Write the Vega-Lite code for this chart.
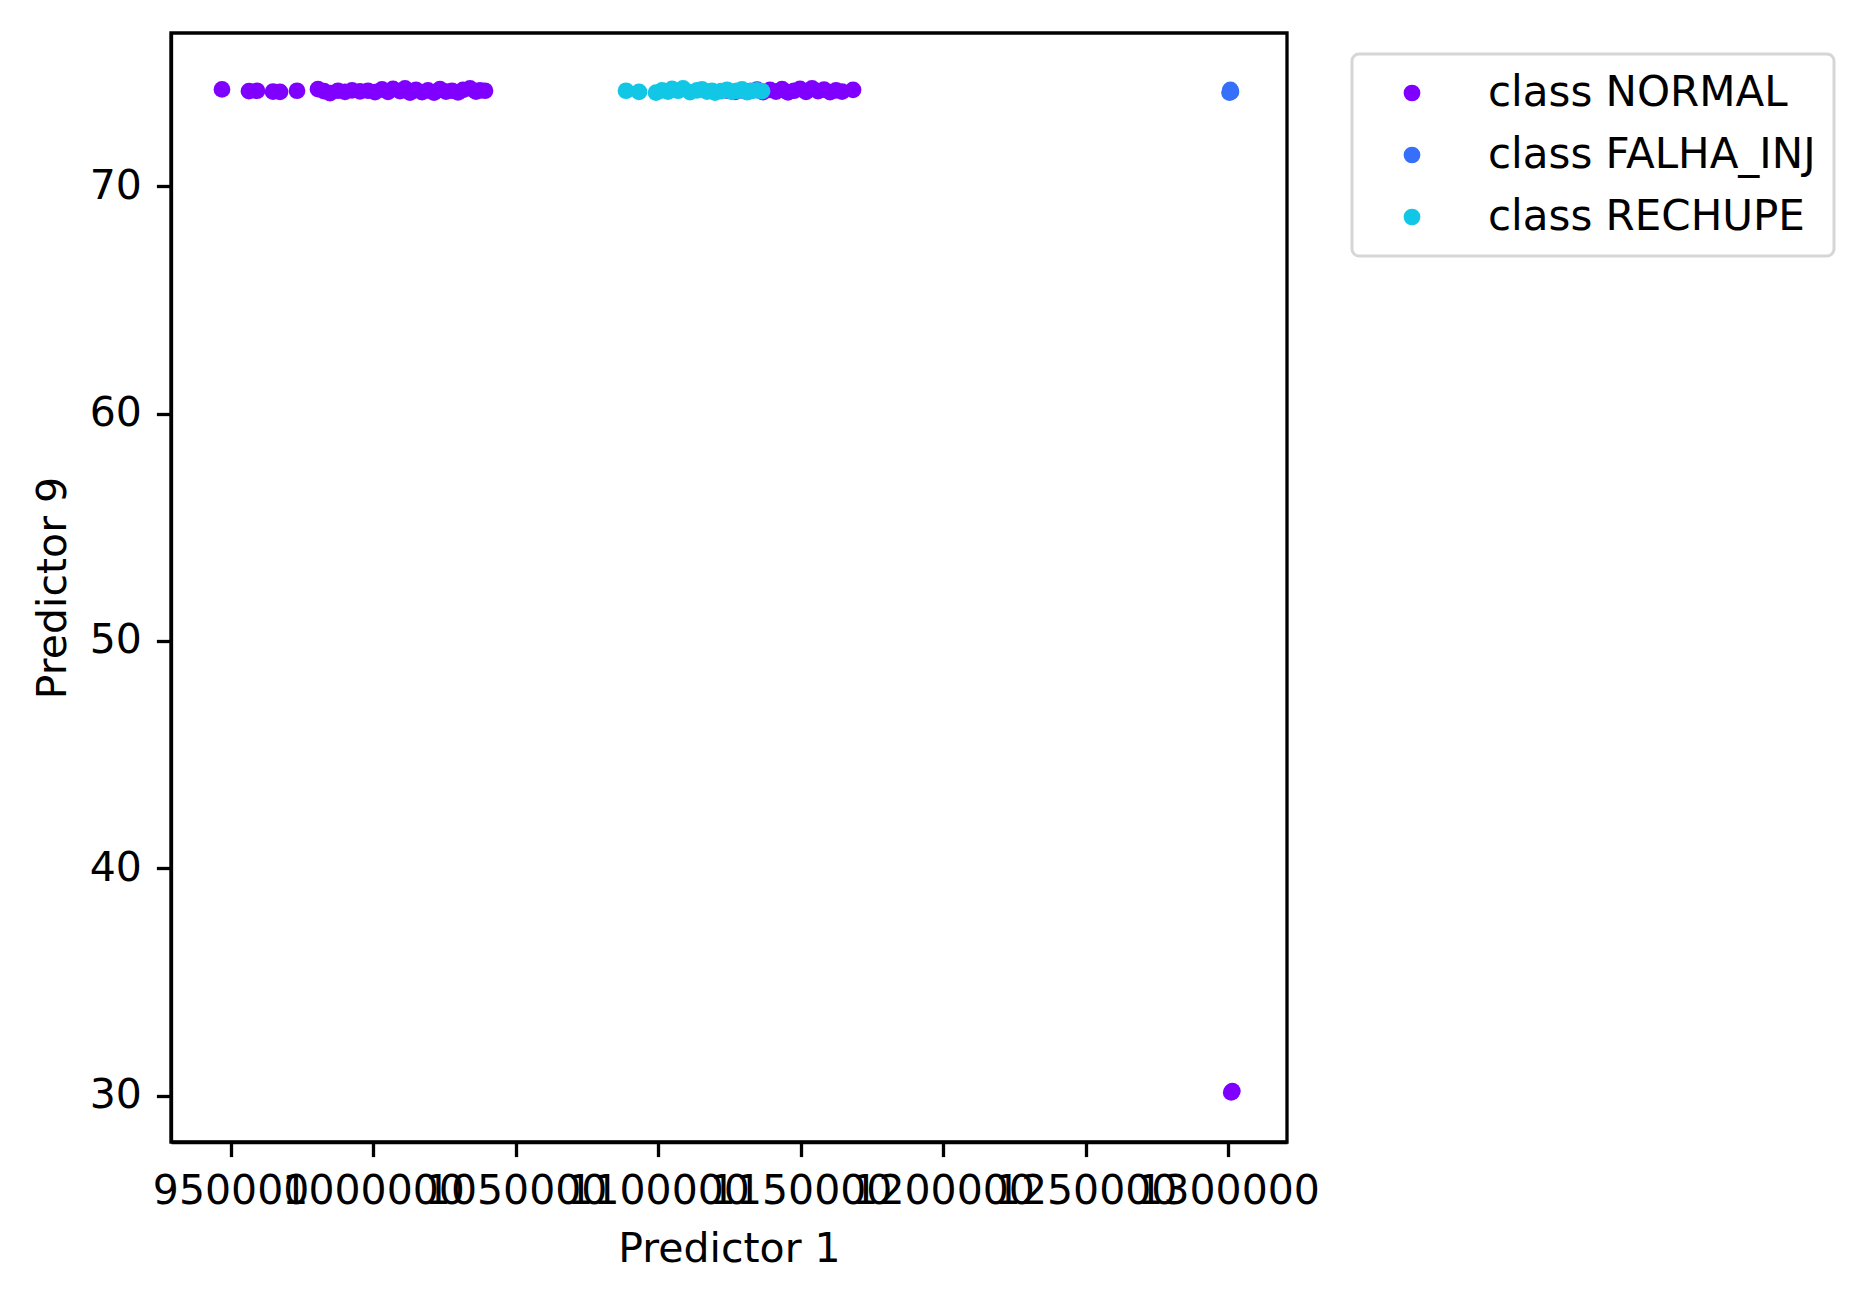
{
  "$schema": "https://vega.github.io/schema/vega-lite/v6.json",
  "width": 1116,
  "height": 1109,
  "autosize": {"type": "none"},
  "padding": {"left": 171, "top": 33, "right": 574, "bottom": 160},
  "background": "white",
  "config": {
    "font": "DejaVu Sans",
    "view": {"stroke": "black", "strokeWidth": 3.3},
    "axis": {
      "grid": false,
      "domainColor": "black",
      "domainWidth": 3.3,
      "tickColor": "black",
      "tickWidth": 3.3,
      "tickSize": 14.6,
      "labelFont": "DejaVu Sans",
      "labelFontSize": 41,
      "labelColor": "black",
      "labelLimit": 0,
      "titleFont": "DejaVu Sans",
      "titleFontSize": 41,
      "titleFontWeight": "normal",
      "titleColor": "black",
      "labelOverlap": false,
      "labelFlush": false,
      "labelBound": false
    }
  },
  "data": {
    "values": [
      {"p1": 946980, "p9": 74.26, "cls": "class NORMAL"},
      {"p1": 956457, "p9": 74.18, "cls": "class NORMAL"},
      {"p1": 959264, "p9": 74.2, "cls": "class NORMAL"},
      {"p1": 964878, "p9": 74.16, "cls": "class NORMAL"},
      {"p1": 967334, "p9": 74.15, "cls": "class NORMAL"},
      {"p1": 973299, "p9": 74.2, "cls": "class NORMAL"},
      {"p1": 980668, "p9": 74.27, "cls": "class NORMAL"},
      {"p1": 982773, "p9": 74.18, "cls": "class NORMAL"},
      {"p1": 984879, "p9": 74.1, "cls": "class NORMAL"},
      {"p1": 987686, "p9": 74.2, "cls": "class NORMAL"},
      {"p1": 990142, "p9": 74.15, "cls": "class NORMAL"},
      {"p1": 992599, "p9": 74.22, "cls": "class NORMAL"},
      {"p1": 995406, "p9": 74.17, "cls": "class NORMAL"},
      {"p1": 998213, "p9": 74.2, "cls": "class NORMAL"},
      {"p1": 1000669, "p9": 74.14, "cls": "class NORMAL"},
      {"p1": 1003125, "p9": 74.26, "cls": "class NORMAL"},
      {"p1": 1005231, "p9": 74.15, "cls": "class NORMAL"},
      {"p1": 1006985, "p9": 74.28, "cls": "class NORMAL"},
      {"p1": 1009442, "p9": 74.18, "cls": "class NORMAL"},
      {"p1": 1011196, "p9": 74.3, "cls": "class NORMAL"},
      {"p1": 1012951, "p9": 74.12, "cls": "class NORMAL"},
      {"p1": 1015056, "p9": 74.24, "cls": "class NORMAL"},
      {"p1": 1017162, "p9": 74.14, "cls": "class NORMAL"},
      {"p1": 1019267, "p9": 74.22, "cls": "class NORMAL"},
      {"p1": 1021373, "p9": 74.12, "cls": "class NORMAL"},
      {"p1": 1023478, "p9": 74.27, "cls": "class NORMAL"},
      {"p1": 1025584, "p9": 74.16, "cls": "class NORMAL"},
      {"p1": 1027689, "p9": 74.2, "cls": "class NORMAL"},
      {"p1": 1029795, "p9": 74.13, "cls": "class NORMAL"},
      {"p1": 1031549, "p9": 74.24, "cls": "class NORMAL"},
      {"p1": 1034005, "p9": 74.3, "cls": "class NORMAL"},
      {"p1": 1036111, "p9": 74.16, "cls": "class NORMAL"},
      {"p1": 1037514, "p9": 74.22, "cls": "class NORMAL"},
      {"p1": 1039269, "p9": 74.2, "cls": "class NORMAL"},
      {"p1": 1124538, "p9": 74.2, "cls": "class NORMAL"},
      {"p1": 1126994, "p9": 74.15, "cls": "class NORMAL"},
      {"p1": 1129451, "p9": 74.22, "cls": "class NORMAL"},
      {"p1": 1132258, "p9": 74.18, "cls": "class NORMAL"},
      {"p1": 1134714, "p9": 74.25, "cls": "class NORMAL"},
      {"p1": 1136820, "p9": 74.14, "cls": "class NORMAL"},
      {"p1": 1139276, "p9": 74.24, "cls": "class NORMAL"},
      {"p1": 1141381, "p9": 74.16, "cls": "class NORMAL"},
      {"p1": 1143487, "p9": 74.27, "cls": "class NORMAL"},
      {"p1": 1145592, "p9": 74.13, "cls": "class NORMAL"},
      {"p1": 1147698, "p9": 74.2, "cls": "class NORMAL"},
      {"p1": 1149803, "p9": 74.28, "cls": "class NORMAL"},
      {"p1": 1151909, "p9": 74.15, "cls": "class NORMAL"},
      {"p1": 1154014, "p9": 74.3, "cls": "class NORMAL"},
      {"p1": 1156120, "p9": 74.18, "cls": "class NORMAL"},
      {"p1": 1158225, "p9": 74.25, "cls": "class NORMAL"},
      {"p1": 1160331, "p9": 74.14, "cls": "class NORMAL"},
      {"p1": 1162436, "p9": 74.22, "cls": "class NORMAL"},
      {"p1": 1164542, "p9": 74.16, "cls": "class NORMAL"},
      {"p1": 1168402, "p9": 74.24, "cls": "class NORMAL"},
      {"p1": 1301100, "p9": 30.14, "cls": "class NORMAL"},
      {"p1": 1301500, "p9": 30.2, "cls": "class NORMAL"},
      {"p1": 1300500, "p9": 74.12, "cls": "class FALHA_INJ"},
      {"p1": 1300800, "p9": 74.24, "cls": "class FALHA_INJ"},
      {"p1": 1301000, "p9": 74.15, "cls": "class FALHA_INJ"},
      {"p1": 1088746, "p9": 74.2, "cls": "class RECHUPE"},
      {"p1": 1093308, "p9": 74.15, "cls": "class RECHUPE"},
      {"p1": 1099273, "p9": 74.12, "cls": "class RECHUPE"},
      {"p1": 1101379, "p9": 74.22, "cls": "class RECHUPE"},
      {"p1": 1103484, "p9": 74.16, "cls": "class RECHUPE"},
      {"p1": 1104888, "p9": 74.28, "cls": "class RECHUPE"},
      {"p1": 1106993, "p9": 74.2, "cls": "class RECHUPE"},
      {"p1": 1108748, "p9": 74.3, "cls": "class RECHUPE"},
      {"p1": 1111204, "p9": 74.14, "cls": "class RECHUPE"},
      {"p1": 1113660, "p9": 74.22, "cls": "class RECHUPE"},
      {"p1": 1115415, "p9": 74.26, "cls": "class RECHUPE"},
      {"p1": 1117169, "p9": 74.16, "cls": "class RECHUPE"},
      {"p1": 1118924, "p9": 74.2, "cls": "class RECHUPE"},
      {"p1": 1119976, "p9": 74.12, "cls": "class RECHUPE"},
      {"p1": 1122082, "p9": 74.18, "cls": "class RECHUPE"},
      {"p1": 1124187, "p9": 74.24, "cls": "class RECHUPE"},
      {"p1": 1125942, "p9": 74.15, "cls": "class RECHUPE"},
      {"p1": 1127696, "p9": 74.2, "cls": "class RECHUPE"},
      {"p1": 1129451, "p9": 74.26, "cls": "class RECHUPE"},
      {"p1": 1131205, "p9": 74.14, "cls": "class RECHUPE"},
      {"p1": 1132960, "p9": 74.2, "cls": "class RECHUPE"},
      {"p1": 1134714, "p9": 74.22, "cls": "class RECHUPE"},
      {"p1": 1136469, "p9": 74.18, "cls": "class RECHUPE"}
    ]
  },
  "mark": {"type": "circle", "opacity": 1, "size": 280},
  "encoding": {
    "x": {
      "field": "p1",
      "type": "quantitative",
      "title": "Predictor 1",
      "scale": {"domain": [929090, 1320670], "nice": false, "zero": false},
      "axis": {
        "values": [950000, 1000000, 1050000, 1100000, 1150000, 1200000, 1250000, 1300000],
        "format": "d",
        "labelPadding": 15,
        "titlePadding": 18
      }
    },
    "y": {
      "field": "p9",
      "type": "quantitative",
      "title": "Predictor 9",
      "scale": {"domain": [27.96, 76.74], "nice": false, "zero": false},
      "axis": {
        "values": [30, 40, 50, 60, 70],
        "format": "d",
        "labelPadding": 15,
        "titlePadding": 15
      }
    },
    "color": {
      "field": "cls",
      "type": "nominal",
      "scale": {
        "domain": ["class NORMAL", "class FALHA_INJ", "class RECHUPE"],
        "range": ["#8000ff", "#366ff9", "#12c7e6"]
      },
      "legend": {
        "title": null,
        "orient": "none",
        "legendX": 1181,
        "legendY": 21,
        "padding": 18,
        "symbolOffset": 21,
        "labelOffset": 55,
        "rowPadding": 20,
        "symbolSize": 280,
        "symbolType": "circle",
        "symbolStrokeWidth": 0,
        "symbolOpacity": 1,
        "labelFont": "DejaVu Sans",
        "labelFontSize": 42,
        "labelColor": "black",
        "labelLimit": 0,
        "strokeColor": "#d6d6d6",
        "cornerRadius": 7,
        "fillColor": "white",
        "encode": {
          "legend": {"update": {"strokeWidth": {"value": 3}}}
        }
      }
    }
  }
}
